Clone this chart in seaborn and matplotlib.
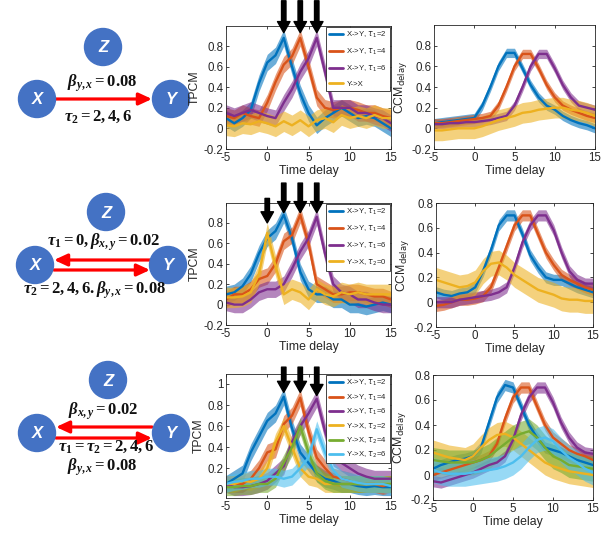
import numpy as np
import pandas as pd
import seaborn as sns
import matplotlib
matplotlib.use("Agg")
import matplotlib.pyplot as plt
from matplotlib.patches import Circle

# ---------------- data ----------------
lags = list(range(-5, 16))

# Row 1: X -> Y only (tau2 = 2, 4, 6)
r1_tpcm_xy2 = [0.10, 0.05, 0.10, 0.18, 0.44, 0.64, 0.71, 0.88, 0.60, 0.34, 0.15, 0.03, 0.10, 0.15, 0.20, 0.15, 0.10, 0.12, 0.10, 0.05, 0.00]
r1_tpcm_xy4 = [0.12, 0.10, 0.15, 0.12, 0.10, 0.25, 0.45, 0.62, 0.70, 0.88, 0.60, 0.30, 0.20, 0.18, 0.20, 0.20, 0.18, 0.15, 0.15, 0.12, 0.10]
r1_tpcm_xy6 = [0.15, 0.12, 0.15, 0.18, 0.15, 0.12, 0.10, 0.25, 0.38, 0.55, 0.68, 0.88, 0.55, 0.20, 0.20, 0.20, 0.15, 0.15, 0.12, 0.10, 0.05]
r1_tpcm_yx = [0.03, 0.02, 0.05, 0.04, 0.07, 0.05, 0.02, 0.07, 0.03, 0.08, 0.02, 0.08, 0.10, 0.06, 0.13, 0.10, 0.12, 0.10, 0.13, 0.10, 0.10]

r1_ccm_xy2 = [0.05, 0.06, 0.07, 0.08, 0.09, 0.10, 0.22, 0.40, 0.60, 0.73, 0.73, 0.58, 0.42, 0.30, 0.22, 0.18, 0.12, 0.08, 0.05, 0.03, 0.00]
r1_ccm_xy4 = [0.05, 0.05, 0.06, 0.07, 0.08, 0.09, 0.10, 0.12, 0.22, 0.40, 0.60, 0.72, 0.72, 0.58, 0.42, 0.30, 0.22, 0.18, 0.15, 0.12, 0.10]
r1_ccm_xy6 = [0.04, 0.04, 0.05, 0.05, 0.06, 0.06, 0.07, 0.08, 0.10, 0.12, 0.22, 0.40, 0.60, 0.72, 0.72, 0.58, 0.42, 0.30, 0.22, 0.20, 0.18]
r1_ccm_yx = [-0.02, -0.02, -0.01, 0.00, 0.00, 0.00, 0.02, 0.05, 0.08, 0.10, 0.12, 0.15, 0.16, 0.18, 0.19, 0.20, 0.20, 0.18, 0.17, 0.15, 0.12]

# Row 2: X -> Y (tau2 = 2, 4, 6) plus Y -> X (tau1 = 0)
r2_tpcm_xy2 = [0.10, 0.12, 0.18, 0.30, 0.50, 0.65, 0.72, 0.88, 0.65, 0.32, 0.15, 0.10, 0.10, 0.05, 0.05, 0.00, 0.00, -0.02, 0.00, 0.02, 0.00]
r2_tpcm_xy4 = [0.05, 0.10, 0.10, 0.15, 0.25, 0.28, 0.40, 0.62, 0.68, 0.88, 0.60, 0.20, 0.15, 0.10, 0.10, 0.12, 0.12, 0.10, 0.08, 0.08, 0.05]
r2_tpcm_xy6 = [0.02, 0.00, 0.00, 0.05, 0.12, 0.15, 0.15, 0.20, 0.35, 0.52, 0.65, 0.86, 0.50, 0.20, 0.12, 0.10, 0.05, 0.05, 0.02, 0.00, 0.00]
r2_tpcm_yx = [0.07, 0.07, 0.08, 0.12, 0.30, 0.70, 0.38, 0.10, 0.15, 0.12, 0.05, 0.15, 0.10, 0.08, 0.12, 0.10, 0.12, 0.10, 0.10, 0.10, 0.10]

r2_ccm_xy2 = [0.08, 0.06, 0.05, 0.07, 0.08, 0.12, 0.25, 0.42, 0.62, 0.70, 0.70, 0.55, 0.38, 0.28, 0.20, 0.18, 0.18, 0.15, 0.12, 0.10, 0.08]
r2_ccm_xy4 = [-0.03, -0.02, 0.00, 0.02, 0.02, 0.03, 0.05, 0.12, 0.28, 0.45, 0.62, 0.70, 0.70, 0.55, 0.40, 0.30, 0.22, 0.18, 0.15, 0.12, 0.10]
r2_ccm_xy6 = [0.00, 0.00, 0.00, 0.02, 0.03, 0.04, 0.05, 0.06, 0.08, 0.12, 0.28, 0.48, 0.62, 0.70, 0.70, 0.58, 0.40, 0.25, 0.18, 0.15, 0.15]
r2_ccm_yx = [0.18, 0.16, 0.14, 0.12, 0.13, 0.16, 0.25, 0.31, 0.32, 0.28, 0.22, 0.18, 0.14, 0.10, 0.08, 0.06, 0.03, 0.02, 0.02, 0.01, 0.01]

# Row 3: bidirectional, tau1 = tau2 = 2, 4, 6
r3_tpcm_xy2 = [0.05, 0.10, 0.15, 0.35, 0.50, 0.65, 0.72, 0.88, 0.58, 0.35, 0.25, 0.15, 0.10, 0.08, 0.05, 0.05, 0.03, 0.02, 0.03, 0.02, 0.02]
r3_tpcm_xy4 = [0.05, 0.05, 0.05, 0.10, 0.20, 0.35, 0.38, 0.62, 0.70, 0.87, 0.55, 0.30, 0.20, 0.12, 0.10, 0.08, 0.05, 0.05, 0.05, 0.03, 0.05]
r3_tpcm_xy6 = [0.05, 0.02, 0.02, 0.03, 0.05, 0.08, 0.15, 0.22, 0.45, 0.60, 0.72, 0.86, 0.55, 0.30, 0.25, 0.20, 0.15, 0.12, 0.10, 0.10, 0.10]
r3_tpcm_yx2 = [0.05, 0.05, 0.08, 0.07, 0.10, 0.20, 0.45, 0.60, 0.40, 0.20, 0.12, 0.10, 0.05, 0.05, 0.05, 0.05, 0.05, 0.05, 0.05, 0.05, 0.05]
r3_tpcm_yx4 = [0.02, 0.02, 0.03, 0.03, 0.05, 0.05, 0.10, 0.25, 0.40, 0.60, 0.35, 0.15, 0.08, 0.05, 0.05, 0.05, 0.05, 0.05, 0.05, 0.05, 0.05]
r3_tpcm_yx6 = [0.05, 0.07, 0.08, 0.10, 0.10, 0.12, 0.12, 0.10, 0.12, 0.20, 0.30, 0.57, 0.35, 0.18, 0.10, 0.08, 0.06, 0.05, 0.05, 0.05, 0.03]

r3_ccm_xy2 = [0.05, 0.08, 0.10, 0.12, 0.13, 0.15, 0.22, 0.42, 0.62, 0.72, 0.70, 0.55, 0.40, 0.30, 0.22, 0.20, 0.18, 0.15, 0.12, 0.10, 0.08]
r3_ccm_xy4 = [0.00, 0.02, 0.04, 0.06, 0.08, 0.10, 0.12, 0.15, 0.25, 0.45, 0.62, 0.70, 0.70, 0.55, 0.40, 0.30, 0.25, 0.20, 0.17, 0.15, 0.12]
r3_ccm_xy6 = [-0.05, -0.06, -0.04, -0.02, 0.00, 0.02, 0.05, 0.08, 0.10, 0.15, 0.28, 0.48, 0.62, 0.70, 0.70, 0.58, 0.42, 0.30, 0.22, 0.18, 0.17]
r3_ccm_yx2 = [0.18, 0.16, 0.14, 0.13, 0.12, 0.15, 0.22, 0.28, 0.32, 0.33, 0.30, 0.25, 0.20, 0.15, 0.10, 0.07, 0.05, 0.03, 0.02, 0.01, 0.00]
r3_ccm_yx4 = [0.12, 0.11, 0.10, 0.10, 0.10, 0.10, 0.12, 0.15, 0.20, 0.25, 0.30, 0.33, 0.35, 0.30, 0.22, 0.15, 0.12, 0.08, 0.07, 0.06, 0.05]
r3_ccm_yx6 = [0.04, 0.02, 0.01, 0.01, 0.01, 0.02, 0.03, 0.04, 0.05, 0.07, 0.10, 0.15, 0.22, 0.28, 0.30, 0.27, 0.20, 0.14, 0.10, 0.05, 0.02]

# half-width of the shaded bands for each series
tpcm_band = 0.08
tpcm_band_yx = 0.10
ccm_band = 0.045
ccm_band_yx = 0.10

labels_xy = [r"X->Y, $\tau_1$=2", r"X->Y, $\tau_1$=4", r"X->Y, $\tau_1$=6"]
labels_r1_yx = ["Y->X"]
labels_r2_yx = [r"Y->X, $\tau_2$=0"]
labels_r3_yx = [r"Y->X, $\tau_2$=2", r"Y->X, $\tau_2$=4", r"Y->X, $\tau_2$=6"]

BLUE, ORANGE, PURPLE = "#0072BD", "#D95319", "#7E2F8E"
YELLOW, GREEN, CYAN = "#EDB120", "#77AC30", "#4DBEEE"

# ---------------- style ----------------
sns.set_theme(style="ticks")
plt.rcParams["font.family"] = ["Liberation Sans", "DejaVu Sans"]
# the "custom" math font set is used for the bold equations of the diagrams
plt.rcParams["mathtext.fontset"] = "custom"
plt.rcParams["mathtext.rm"] = "Liberation Serif:bold"
plt.rcParams["mathtext.bf"] = "Liberation Serif:bold"
plt.rcParams["mathtext.it"] = "Liberation Serif:bold:italic"

W, H = 613, 536
fig = plt.figure(figsize=(W / 100, H / 100), dpi=100)


def ax_px(left, top, right, bottom):
    return fig.add_axes([left / W, 1 - bottom / H, (right - left) / W, (bottom - top) / H])


# full-figure layer for the network diagrams
bg = fig.add_axes([0, 0, 1, 1])
bg.set_xlim(0, W)
bg.set_ylim(H, 0)
bg.axis("off")

NODE = "#4472C4"


def node(x, y, letter):
    bg.add_patch(Circle((x, y), 18.5, color=NODE, zorder=2))
    bg.text(x, y + 1, letter, color="white", fontsize=12, fontweight="bold",
            style="italic", ha="center", va="center", zorder=3)


def red_arrow(x0, x1, y):
    bg.annotate("", xy=(x1, y), xytext=(x0, y),
                arrowprops=dict(arrowstyle="-|>,head_length=0.65,head_width=0.3",
                                color="#FF0000", lw=2.3, shrinkA=0, shrinkB=0),
                zorder=1)


def eq(x, y, s):
    bg.text(x, y, s, fontsize=12, ha="center", va="center", color="#111111",
            math_fontfamily="custom")


# row 1 diagram
node(103, 47, "Z"); node(37, 99, "X"); node(171, 99, "Y")
red_arrow(55, 152, 99)
eq(102, 83, r"$\beta_{y,x}=0.08$")
eq(98, 117, r"$\tau_2=2,4,6$")

# row 2 diagram
node(106, 212, "Z"); node(35, 265, "X"); node(168, 265, "Y")
red_arrow(150, 54, 260)
red_arrow(54, 150, 270)
eq(103, 242, r"$\tau_1=0,\beta_{x,y}=0.02$")
eq(95, 290, r"$\tau_2=2,4,6.\beta_{y,x}=0.08$")

# row 3 diagram
node(108, 380, "Z"); node(37, 433, "X"); node(171, 433, "Y")
red_arrow(152, 56, 427)
red_arrow(56, 152, 438)
eq(103, 411, r"$\beta_{x,y}=0.02$")
eq(106, 447, r"$\tau_1=\tau_2=2,4,6$")
eq(102, 467, r"$\beta_{y,x}=0.08$")


def panel(ax, series, ylim, yticks, ylabel, legend=None, spacing=0.6):
    for vals, col, lab, band in series:
        df = pd.DataFrame({"lag": lags, "val": vals})
        v = np.asarray(vals)
        ax.fill_between(lags, v - band, v + band, color=col, alpha=0.58, lw=0)
        sns.lineplot(data=df, x="lag", y="val", ax=ax, color=col, lw=1.7,
                     label=lab if legend else None, legend=False)
    ax.set_xlim(-5, 15)
    ax.set_ylim(*ylim)
    ax.set_xticks([-5, 0, 5, 10, 15])
    ax.set_xticklabels(["-5", "0", "5", "10", "15"])
    ax.set_yticks(yticks)
    ax.set_yticklabels([("%g" % t) for t in yticks])
    ax.set_xlabel("Time delay", fontsize=8.8, labelpad=1, color="#262626")
    yl = ax.set_ylabel(ylabel, fontsize=8.8, labelpad=2, color="#262626")
    yl.set_math_fontfamily("dejavusans")
    ax.tick_params(direction="in", length=2.5, labelsize=8.3, colors="#262626",
                   pad=2, top=True, right=True, width=0.6)
    for sp in ax.spines.values():
        sp.set_visible(True)
        sp.set_color("#262626")
        sp.set_linewidth(0.6)
    if legend:
        lg = ax.legend(loc="upper right", fontsize=5.6, handlelength=1.8,
                       handletextpad=0.4, labelspacing=spacing, borderaxespad=0.1,
                       borderpad=0.4, fancybox=False, framealpha=1, edgecolor="#262626")
        lg.get_frame().set_linewidth(0.6)
        for t in lg.get_texts():
            t.set_math_fontfamily("dejavusans")
        for ln in lg.get_lines():
            ln.set_linewidth(2.0)


def peak_arrows(ax, xs, tail, tip):
    for x, t0, t1 in zip(xs, tail, tip):
        ax.annotate("", xy=(x, t1), xytext=(x, t0), annotation_clip=False,
                    arrowprops=dict(facecolor="black", edgecolor="black", width=3.2,
                                    headwidth=9, headlength=8, shrink=0))


tp_ticks = [-0.2, 0, 0.2, 0.4, 0.6, 0.8]
ccm_label = r"CCM$_{\mathrm{delay}}$"

# row 1
a1 = ax_px(226, 26, 391, 149)
panel(a1, [(r1_tpcm_xy2, BLUE, labels_xy[0], tpcm_band),
           (r1_tpcm_xy4, ORANGE, labels_xy[1], tpcm_band),
           (r1_tpcm_xy6, PURPLE, labels_xy[2], tpcm_band),
           (r1_tpcm_yx, YELLOW, labels_r1_yx[0], tpcm_band_yx)],
      (-0.2, 0.995), tp_ticks, "TPCM", legend=True, spacing=0.8)
peak_arrows(a1, [2, 4, 6], [1.24, 1.24, 1.24], [0.93, 0.93, 0.93])

b1 = ax_px(434, 25, 595, 149)
panel(b1, [(r1_ccm_xy2, BLUE, None, ccm_band),
           (r1_ccm_xy4, ORANGE, None, ccm_band),
           (r1_ccm_xy6, PURPLE, None, ccm_band),
           (r1_ccm_yx, YELLOW, None, ccm_band_yx)],
      (-0.2, 1.0), tp_ticks, ccm_label)

# row 2
a2 = ax_px(226, 203, 391, 325)
panel(a2, [(r2_tpcm_xy2, BLUE, labels_xy[0], tpcm_band),
           (r2_tpcm_xy4, ORANGE, labels_xy[1], tpcm_band),
           (r2_tpcm_xy6, PURPLE, labels_xy[2], tpcm_band),
           (r2_tpcm_yx, YELLOW, labels_r2_yx[0], tpcm_band_yx)],
      (-0.2, 0.995), tp_ticks, "TPCM", legend=True, spacing=0.8)
peak_arrows(a2, [0, 2, 4, 6], [1.04, 1.19, 1.19, 1.19], [0.80, 0.90, 0.90, 0.90])

b2 = ax_px(436, 203, 593, 327)
panel(b2, [(r2_ccm_xy2, BLUE, None, ccm_band),
           (r2_ccm_xy4, ORANGE, None, ccm_band),
           (r2_ccm_xy6, PURPLE, None, ccm_band),
           (r2_ccm_yx, YELLOW, None, ccm_band_yx)],
      (-0.2, 0.8), tp_ticks, ccm_label)

# row 3
a3 = ax_px(226, 374, 391, 498)
panel(a3, [(r3_tpcm_xy2, BLUE, labels_xy[0], tpcm_band),
           (r3_tpcm_xy4, ORANGE, labels_xy[1], tpcm_band),
           (r3_tpcm_xy6, PURPLE, labels_xy[2], tpcm_band),
           (r3_tpcm_yx2, YELLOW, labels_r3_yx[0], tpcm_band),
           (r3_tpcm_yx4, GREEN, labels_r3_yx[1], tpcm_band),
           (r3_tpcm_yx6, CYAN, labels_r3_yx[2], tpcm_band)],
      (-0.083, 1.095), [0, 0.2, 0.4, 0.6, 0.8, 1], "TPCM", legend=True, spacing=0.5)
peak_arrows(a3, [2, 4, 6], [1.16, 1.16, 1.16], [0.92, 0.92, 0.89])

b3 = ax_px(433, 375, 593, 500)
panel(b3, [(r3_ccm_xy2, BLUE, None, ccm_band),
           (r3_ccm_xy4, ORANGE, None, ccm_band),
           (r3_ccm_xy6, PURPLE, None, ccm_band),
           (r3_ccm_yx2, YELLOW, None, ccm_band_yx),
           (r3_ccm_yx4, GREEN, None, ccm_band_yx),
           (r3_ccm_yx6, CYAN, None, ccm_band_yx)],
      (-0.2, 0.8), tp_ticks, ccm_label)

fig.savefig("out.png", dpi=100, facecolor="white")
